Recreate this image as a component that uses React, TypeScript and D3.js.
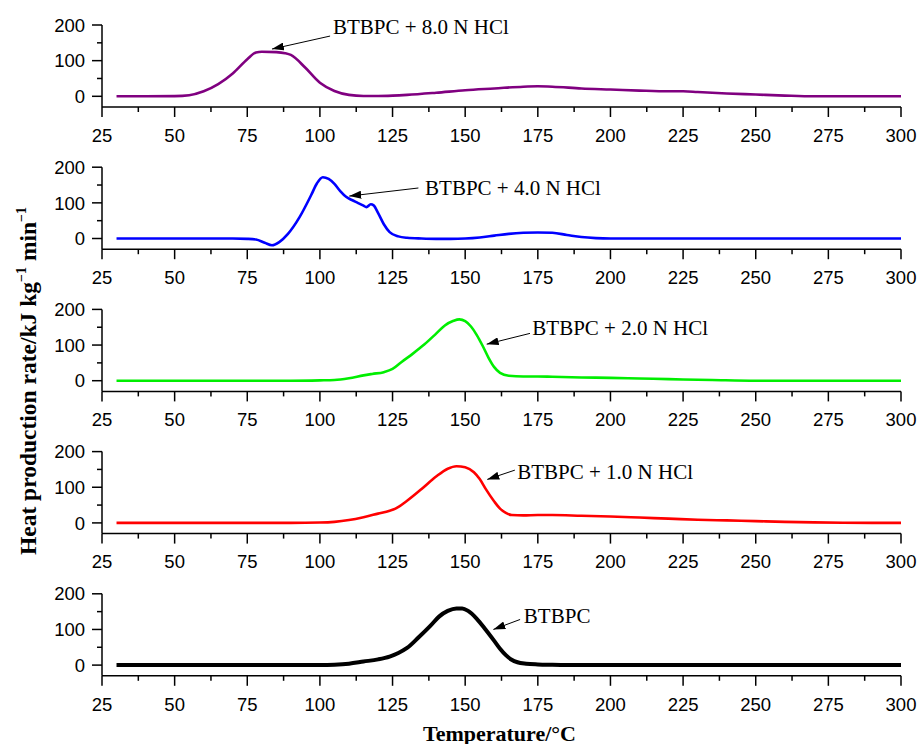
import React from "react";
import * as d3 from "d3";

const X_TICKS = [25, 50, 75, 100, 125, 150, 175, 200, 225, 250, 275, 300];
const Y_TICKS = [0, 100, 200];

const HCL8: [number, number][] = [
  [30, 0], [40, 0], [50, 0.5], [55, 3], [60, 14], [65, 34], [70, 64], [75, 104], [78, 123], [80, 125],
  [85, 124], [88, 121], [90, 116], [95, 80], [100, 38], [105, 15], [110, 4], [115, 1], [120, 1], [125, 2],
  [130, 4], [140, 10], [150, 17], [160, 22], [170, 27], [175, 28], [180, 27], [190, 22], [200, 19],
  [210, 16], [220, 14], [225, 14], [230, 12], [240, 8], [250, 5], [260, 2], [270, 0], [280, 0], [290, 0], [300, 0],
];

const HCL4: [number, number][] = [
  [30, 0], [40, 0], [50, 0], [60, 0], [70, 0], [75, -1], [78, -3], [81, -12], [83.5, -19], [86, -10],
  [89, 13], [93, 60], [97, 122], [99, 155], [101, 172], [103, 167], [105, 153], [107, 133], [109, 117],
  [111, 108], [113, 100], [115, 92], [116, 88], [117.5, 96], [118.5, 93], [120, 72], [122, 40], [124, 18],
  [127, 6], [130, 2], [135, 0], [140, -1], [145, -1], [150, 0], [155, 3], [160, 8], [165, 13], [170, 16],
  [175, 17], [180, 16], [185, 10], [190, 4], [195, 1], [200, 0], [250, 0], [300, 0],
];

const HCL2: [number, number][] = [
  [30, 0], [50, 0], [70, 0], [90, 0], [100, 1], [105, 2], [110, 7], [115, 15], [118, 19], [122, 24],
  [125, 33], [128, 52], [132, 76], [136, 102], [140, 132], [143, 155], [146, 168], [148, 172], [150, 167],
  [152, 152], [154, 128], [156, 98], [158, 65], [160, 38], [162, 22], [165, 14], [170, 12], [175, 12],
  [180, 11], [190, 9], [200, 8], [210, 6], [220, 4.5], [225, 3.5], [235, 2], [250, 0], [275, 0], [300, 0],
];

const HCL1: [number, number][] = [
  [30, 0], [50, 0], [70, 0], [90, 0], [100, 1], [105, 3], [110, 8], [115, 16], [120, 26], [124, 34],
  [126, 40], [130, 62], [135, 95], [140, 130], [144, 152], [147, 159], [150, 156], [153, 142], [155, 123],
  [157, 96], [160, 60], [162, 40], [164, 28], [166, 22], [170, 21], [175, 22], [180, 22], [190, 20],
  [200, 18], [210, 15], [220, 12], [230, 9], [240, 7], [250, 5], [260, 3], [270, 1.5], [280, 0.5], [290, 0], [300, 0],
];

const PURE: [number, number][] = [
  [30, 0], [50, 0], [70, 0], [90, 0], [100, 0], [105, 1], [110, 4], [115, 10], [120, 16], [124, 24],
  [127, 34], [130, 48], [134, 78], [138, 110], [141, 136], [144, 152], [147, 159], [149, 159], [151, 152],
  [154, 130], [157, 100], [160, 68], [162, 46], [164, 28], [166, 15], [168, 8], [171, 4], [175, 2],
  [180, 1], [190, 0], [250, 0], [300, 0],
];

const SERIES = [HCL8, HCL4, HCL2, HCL1, PURE];
const COLORS = ["#800080", "#0000ff", "#00ee00", "#ff0000", "#000000"];
const WIDTHS = [2.6, 2.6, 2.6, 2.6, 4];
const LABELS = ["BTBPC + 8.0 N HCl", "BTBPC + 4.0 N HCl", "BTBPC + 2.0 N HCl", "BTBPC + 1.0 N HCl", "BTBPC"];
// annotation: [textT, textV, fromT, fromV, tipT, tipV]
const ANNOTS: number[][] = [
  [104.5, 174.5, 103.5, 169, 83.5, 132.5],
  [136.2, 121, 133.9, 141.7, 110.1, 119],
  [173.1, 128, 172.3, 132.7, 157.4, 102.5],
  [167.9, 123, 167.1, 148, 157.6, 122],
  [170.2, 117, 168.9, 128, 159.7, 100],
];

const W = 917;
const H = 744;
const X0 = 102;
const X1 = 901;
const PANEL_TOP = 25;
const PANEL_STEP = 142.2;
const PANEL_H = 82;

export default function App() {
  const x = d3.scaleLinear().domain([25, 300]).range([X0, X1]);
  const xMinor = d3.range(37.5, 300, 25);
  const yMinor = [50, 150];
  const sans = "'Liberation Sans', Arial, Helvetica, sans-serif";
  const serif = "'Liberation Serif', 'Times New Roman', Times, serif";

  return (
    <svg width={W} height={H} style={{ position: "absolute", left: 0, top: 0, background: "#fff" }}>
      <defs>
        <marker id="arr" viewBox="0 0 12 8" refX="12" refY="4" markerWidth="12" markerHeight="8" markerUnits="userSpaceOnUse" orient="auto">
          <path d="M0,0 L12,4 L0,8 Z" fill="#000" />
        </marker>
      </defs>
      {SERIES.map((data, i) => {
        const top = PANEL_TOP + i * PANEL_STEP;
        const y = d3.scaleLinear().domain([-30, 200]).range([top + PANEL_H, top]);
        const line = d3
          .line<[number, number]>()
          .x((d) => x(d[0]))
          .y((d) => y(d[1]))
          .curve(d3.curveMonotoneX);
        const yb = y(-30);
        const a = ANNOTS[i];
        return (
          <g key={i}>
            <path d={line(data) || ""} fill="none" stroke={COLORS[i]} strokeWidth={WIDTHS[i]} strokeLinejoin="round" />
            <line x1={X0} x2={X0} y1={y(200)} y2={yb} stroke="#000" strokeWidth={1.5} />
            <line x1={X0} x2={X1} y1={yb} y2={yb} stroke="#000" strokeWidth={1.5} />
            {Y_TICKS.map((t) => (
              <g key={"y" + t}>
                <line x1={X0 - 10} x2={X0} y1={y(t)} y2={y(t)} stroke="#000" strokeWidth={1.5} />
                <text x={X0 - 17} y={y(t)} dy="0.36em" textAnchor="end" fontFamily={sans} fontSize={18.5} fill="#000">
                  {t}
                </text>
              </g>
            ))}
            {yMinor.map((t) => (
              <line key={"ym" + t} x1={X0 - 5} x2={X0} y1={y(t)} y2={y(t)} stroke="#000" strokeWidth={1.5} />
            ))}
            {X_TICKS.map((t) => (
              <g key={"x" + t}>
                <line x1={x(t)} x2={x(t)} y1={yb} y2={yb + 10} stroke="#000" strokeWidth={1.5} />
                <text x={x(t)} y={yb + 34.7} textAnchor="middle" fontFamily={sans} fontSize={18.5} fill="#000">
                  {t}
                </text>
              </g>
            ))}
            {xMinor.map((t) => (
              <line key={"xm" + t} x1={x(t)} x2={x(t)} y1={yb} y2={yb + 5} stroke="#000" strokeWidth={1.5} />
            ))}
            <line x1={x(a[2])} y1={y(a[3])} x2={x(a[4])} y2={y(a[5])} stroke="#000" strokeWidth={1} markerEnd="url(#arr)" />
            <text x={x(a[0])} y={y(a[1])} fontFamily={serif} fontSize={21} fill="#000">
              {LABELS[i]}
            </text>
          </g>
        );
      })}
      <text x={(X0 + X1) / 2 - 2} y={740.5} textAnchor="middle" fontFamily={serif} fontWeight="bold" fontSize={22} fill="#000">
        Temperature/°C
      </text>
      <text
        transform={`translate(36, 381) rotate(-90)`}
        textAnchor="middle"
        fontFamily={serif}
        fontWeight="bold"
        fontSize={23.5}
        fill="#000"
      >
        Heat production rate/kJ kg
        <tspan dy="-10" fontSize={14}>−1</tspan>
        <tspan dy="10"> min</tspan>
        <tspan dy="-10" fontSize={14}>−1</tspan>
      </text>
    </svg>
  );
}
